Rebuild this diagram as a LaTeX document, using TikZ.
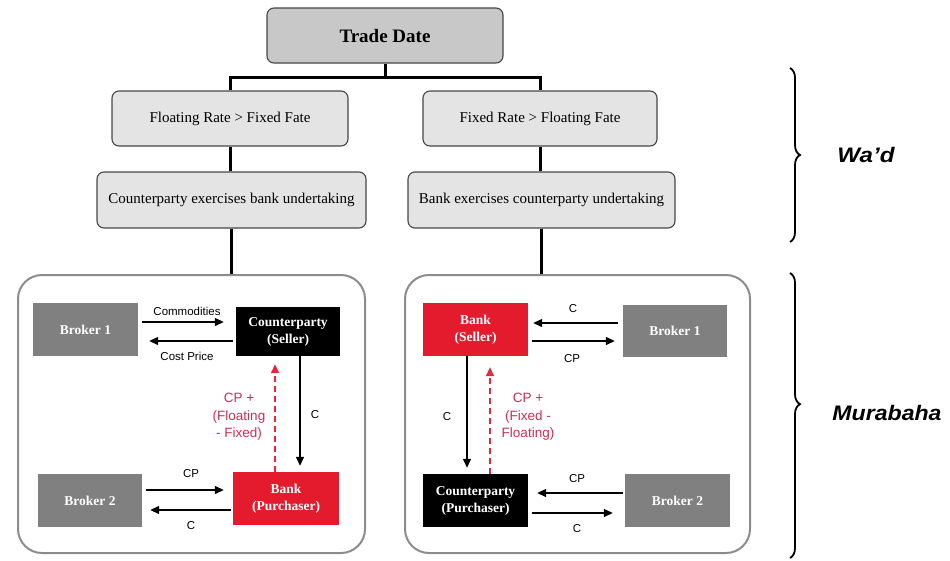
\documentclass[tikz,border=0pt]{standalone}
\usepackage{fontspec}
\setmainfont{Liberation Serif}
\setsansfont{Liberation Sans}
\usetikzlibrary{arrows.meta,decorations.pathreplacing,calc}
\definecolor{bankred}{RGB}{227,27,45}
\definecolor{lblred}{RGB}{205,45,80}
\definecolor{dashred}{RGB}{228,40,64}
\definecolor{brokergray}{RGB}{128,128,128}
\definecolor{tdgray}{RGB}{200,200,200}
\definecolor{boxgray}{RGB}{228,228,228}
\definecolor{edgegray}{RGB}{70,70,70}
\definecolor{panelgray}{RGB}{140,140,140}
\begin{document}
\begin{tikzpicture}[x=1pt,y=-1pt,
  treebox/.style={draw=edgegray, line width=1.1pt, fill=boxgray, rounded corners=7pt, inner sep=0pt, font=\fontsize{15}{17}\selectfont},
  tdbox/.style={treebox, fill=tdgray, font=\fontsize{19}{21}\selectfont\bfseries},
  treeline/.style={line width=3pt},
  panel/.style={draw=panelgray, line width=2pt, rounded corners=24pt, inner sep=0pt},
  party/.style={inner sep=0pt, text=white, align=center, font=\fontsize{13.5}{17}\selectfont\bfseries},
  broker/.style={party, fill=brokergray},
  redbox/.style={party, fill=bankred},
  blackbox/.style={party, fill=black},
  arr/.style={line width=1.3pt, -{Triangle[length=9pt,width=8pt]}},
  darr/.style={line width=1.5pt, draw=dashred, dash pattern=on 6pt off 4pt, -{Triangle[length=9pt,width=8pt]}},
  lbl/.style={font=\sffamily\fontsize{11.5}{13}\selectfont, inner sep=0pt},
  rlbl/.style={font=\sffamily\fontsize{13.5}{17.5}\selectfont, text=lblred, align=center, inner sep=0pt},
  sidelbl/.style={font=\sffamily\bfseries\itshape\fontsize{21}{24}\selectfont, inner sep=0pt},
  brc/.style={decorate, decoration={brace, amplitude=10pt}, line width=1.8pt}
]
\useasboundingbox (0,0) rectangle (950,560);

% tree
\node[tdbox, minimum width=236pt, minimum height=55pt] (td) at (385,35.5) {Trade Date};
\node[treebox, minimum width=236pt, minimum height=55pt] (fl) at (230,118.5) {Floating Rate > Fixed Fate};
\node[treebox, minimum width=234pt, minimum height=55pt] (fx) at (540,118.5) {Fixed Rate > Floating Fate};
\node[treebox, minimum width=269pt, minimum height=56pt] (cb) at (231.5,200) {Counterparty exercises bank undertaking};
\node[treebox, minimum width=267pt, minimum height=56pt] (bc) at (541.5,200) {Bank exercises counterparty undertaking};

\node[panel, minimum width=347pt, minimum height=278pt] (pl) at (191.5,414) {};
\node[panel, minimum width=345pt, minimum height=278pt] (pr) at (577.5,414) {};

\coordinate (bar) at (0,77);
\draw[treeline] (td.south) -- (td.south |- bar);
\draw[treeline] (fl.north) -- (fl.north |- bar) -- (fx.north |- bar) -- (fx.north);
\draw[treeline] (fl.south) -- (fl.south |- cb.north);
\draw[treeline] (fx.south) -- (fx.south |- bc.north);
\draw[treeline] (cb.south) -- (cb.south |- pl.north);
\draw[treeline] (bc.south) -- (bc.south |- pr.north);

% left panel
\node[broker, minimum width=105pt, minimum height=53pt] (lb1) at (85.5,329.5) {Broker 1};
\node[blackbox, minimum width=104pt, minimum height=49pt] (lcp) at (288,331.5) {Counterparty\\(Seller)};
\node[broker, minimum width=104pt, minimum height=53pt] (lb2) at (90,500.5) {Broker 2};
\node[redbox, minimum width=106pt, minimum height=53pt] (lbk) at (286,498.5) {Bank\\(Purchaser)};

\draw[arr, shorten <=4pt, shorten >=12pt] (lb1.east |- 0,322) -- (lcp.west |- 0,322);
\node[lbl] (lcomm) at (187,311) {Commodities};
\draw[arr, shorten <=3pt, shorten >=11pt] (lcp.west |- 0,341) -- (lb1.east |- 0,341);
\node[lbl] (lcost) at (187,356) {Cost Price};
\draw[arr, shorten >=6pt] (lcp.south -| 300,0) -- (lbk.north -| 300,0);
\node[lbl] (lc1) at (315,415) {C};
\draw[darr, shorten >=8pt] (lbk.north -| 275,0) -- (lcp.south -| 275,0);
\node[rlbl] (lred) at (239,417) {CP +\\(Floating\\- Fixed)};
\draw[arr, shorten <=4pt, shorten >=9pt] (lb2.east |- 0,490) -- (lbk.west |- 0,490);
\node[lbl] (lcp2) at (191,474) {CP};
\draw[arr, shorten <=2pt, shorten >=8pt] (lbk.west |- 0,510) -- (lb2.east |- 0,510);
\node[lbl] (lc2) at (191,526) {C};

% right panel
\node[redbox, minimum width=105pt, minimum height=53pt] (rbk) at (475.5,329.5) {Bank\\(Seller)};
\node[broker, minimum width=104pt, minimum height=52pt] (rb1) at (675,331) {Broker 1};
\node[blackbox, minimum width=105pt, minimum height=53pt] (rcp) at (475.5,500.5) {Counterparty\\(Purchaser)};
\node[broker, minimum width=105pt, minimum height=53pt] (rb2) at (677.5,500.5) {Broker 2};

\draw[arr, shorten <=5pt, shorten >=5pt] (rb1.west |- 0,323) -- (rbk.east |- 0,323);
\node[lbl] (rc1) at (573,309) {C};
\draw[arr, shorten <=4pt, shorten >=8pt] (rbk.east |- 0,341) -- (rb1.west |- 0,341);
\node[lbl] (rcp1) at (572,359) {CP};
\draw[arr, shorten >=6pt] (rbk.south -| 467,0) -- (rcp.north -| 467,0);
\node[lbl] (rc2) at (447,417) {C};
\draw[darr, shorten >=11pt] (rcp.north -| 490,0) -- (rbk.south -| 490,0);
\node[rlbl] (rred) at (528,417) {CP +\\(Fixed -\\Floating)};
\draw[arr, shorten <=2pt, shorten >=9pt] (rb2.west |- 0,493) -- (rcp.east |- 0,493);
\node[lbl] (rcp2) at (577,479) {CP};
\draw[arr, shorten <=4pt, shorten >=12pt] (rcp.east |- 0,513) -- (rb2.west |- 0,513);
\node[lbl] (rc3) at (577,529) {C};

% braces
\draw[brc] (790,68) -- (790,242);
\draw[brc, decoration={brace, amplitude=10pt, aspect=0.46}] (790,273) -- (790,558);
\node[sidelbl] (wad) at (866,155) {\scalebox{1.15}[1]{Wa’d}};
\node[sidelbl] (mur) at (887,413) {\scalebox{1.1}[1]{Murabaha}};
\end{tikzpicture}
\end{document}
